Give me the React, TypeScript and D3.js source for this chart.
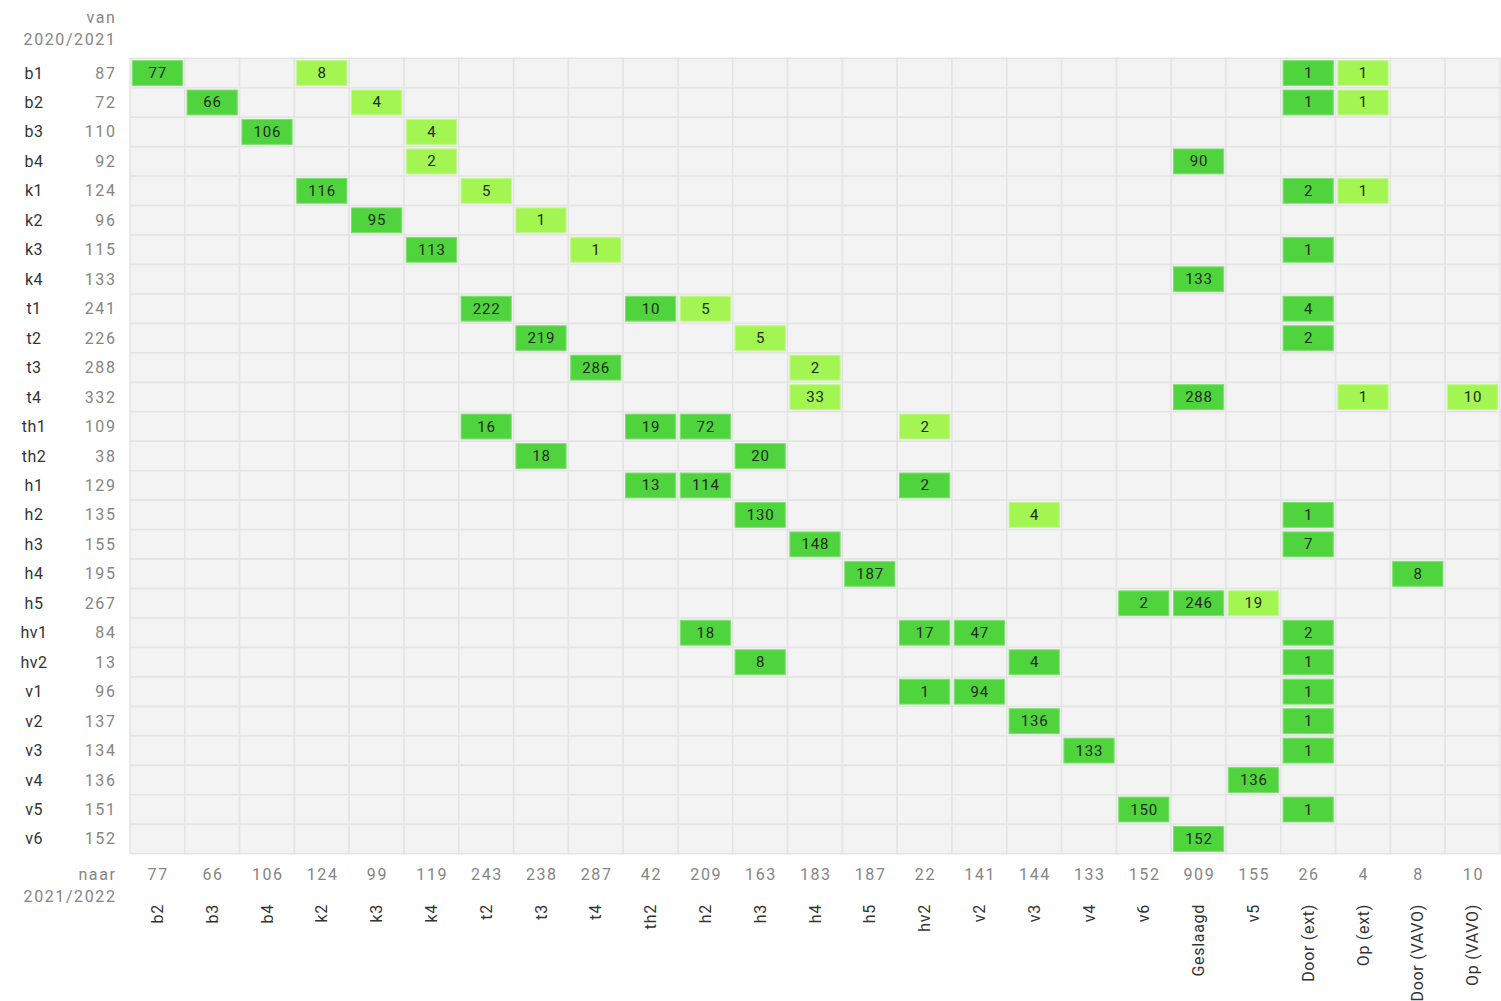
import { useEffect, useRef } from "react";
import * as d3 from "d3";

const FROM = ["b1", "b2", "b3", "b4", "k1", "k2", "k3", "k4", "t1", "t2", "t3", "t4", "th1", "th2", "h1", "h2", "h3", "h4", "h5", "hv1", "hv2", "v1", "v2", "v3", "v4", "v5", "v6"];
const FROM_TOTALS = [87, 72, 110, 92, 124, 96, 115, 133, 241, 226, 288, 332, 109, 38, 129, 135, 155, 195, 267, 84, 13, 96, 137, 134, 136, 151, 152];

const TO = ["b2", "b3", "b4", "k2", "k3", "k4", "t2", "t3", "t4", "th2", "h2", "h3", "h4", "h5", "hv2", "v2", "v3", "v4", "v6", "Geslaagd", "v5", "Door (ext)", "Op (ext)", "Door (VAVO)", "Op (VAVO)"];
const TO_TOTALS = [77, 66, 106, 124, 99, 119, 243, 238, 287, 42, 209, 163, 183, 187, 22, 141, 144, 133, 152, 909, 155, 26, 4, 8, 10];

// [van, naar, aantal, licht (1) of donker (0)]
const FLOWS: [string, string, number, number][] = [
  ["b1", "b2", 77, 0], ["b1", "k2", 8, 1], ["b1", "Door (ext)", 1, 0], ["b1", "Op (ext)", 1, 1],
  ["b2", "b3", 66, 0], ["b2", "k3", 4, 1], ["b2", "Door (ext)", 1, 0], ["b2", "Op (ext)", 1, 1],
  ["b3", "b4", 106, 0], ["b3", "k4", 4, 1],
  ["b4", "k4", 2, 1], ["b4", "Geslaagd", 90, 0],
  ["k1", "k2", 116, 0], ["k1", "t2", 5, 1], ["k1", "Door (ext)", 2, 0], ["k1", "Op (ext)", 1, 1],
  ["k2", "k3", 95, 0], ["k2", "t3", 1, 1],
  ["k3", "k4", 113, 0], ["k3", "t4", 1, 1], ["k3", "Door (ext)", 1, 0],
  ["k4", "Geslaagd", 133, 0],
  ["t1", "t2", 222, 0], ["t1", "th2", 10, 0], ["t1", "h2", 5, 1], ["t1", "Door (ext)", 4, 0],
  ["t2", "t3", 219, 0], ["t2", "h3", 5, 1], ["t2", "Door (ext)", 2, 0],
  ["t3", "t4", 286, 0], ["t3", "h4", 2, 1],
  ["t4", "h4", 33, 1], ["t4", "Geslaagd", 288, 0], ["t4", "Op (ext)", 1, 1], ["t4", "Op (VAVO)", 10, 1],
  ["th1", "t2", 16, 0], ["th1", "th2", 19, 0], ["th1", "h2", 72, 0], ["th1", "hv2", 2, 1],
  ["th2", "t3", 18, 0], ["th2", "h3", 20, 0],
  ["h1", "th2", 13, 0], ["h1", "h2", 114, 0], ["h1", "hv2", 2, 0],
  ["h2", "h3", 130, 0], ["h2", "v3", 4, 1], ["h2", "Door (ext)", 1, 0],
  ["h3", "h4", 148, 0], ["h3", "Door (ext)", 7, 0],
  ["h4", "h5", 187, 0], ["h4", "Door (VAVO)", 8, 0],
  ["h5", "v6", 2, 0], ["h5", "Geslaagd", 246, 0], ["h5", "v5", 19, 1],
  ["hv1", "h2", 18, 0], ["hv1", "hv2", 17, 0], ["hv1", "v2", 47, 0], ["hv1", "Door (ext)", 2, 0],
  ["hv2", "h3", 8, 0], ["hv2", "v3", 4, 0], ["hv2", "Door (ext)", 1, 0],
  ["v1", "hv2", 1, 0], ["v1", "v2", 94, 0], ["v1", "Door (ext)", 1, 0],
  ["v2", "v3", 136, 0], ["v2", "Door (ext)", 1, 0],
  ["v3", "v4", 133, 0], ["v3", "Door (ext)", 1, 0],
  ["v4", "v5", 136, 0],
  ["v5", "v6", 150, 0], ["v5", "Door (ext)", 1, 0],
  ["v6", "Geslaagd", 152, 0],
];

const WIDTH = 1501;
const HEIGHT = 1001;
const FONT = "Roboto, 'Noto Sans', sans-serif";

export default function App() {
  const svgRef = useRef<SVGSVGElement>(null);

  useEffect(() => {
    if (!svgRef.current) return;
    const svg = d3.select(svgRef.current);
    svg.selectAll("*").remove();

    const grid = { left: 130, right: 1500, top: 58.3, bottom: 853.7 };

    const x = d3.scaleBand().domain(TO).range([grid.left, grid.right]);
    const y = d3.scaleBand().domain(FROM).range([grid.top, grid.bottom]);

    // background cells
    const bg = svg.append("g");
    FROM.forEach((f) => {
      TO.forEach((t) => {
        bg.append("rect")
          .attr("x", x(t)!)
          .attr("y", y(f)!)
          .attr("width", x.bandwidth())
          .attr("height", y.bandwidth())
          .attr("fill", "#f3f3f3")
          .attr("stroke", "#e4e4e4")
          .attr("stroke-width", 1.5);
      });
    });

    // filled cells
    const pad = 2.3;
    const cells = svg.append("g");
    FLOWS.forEach(([f, t, v, light]) => {
      const cx = x(t)!;
      const cy = y(f)!;
      cells.append("rect")
        .attr("x", cx + pad)
        .attr("y", cy + pad)
        .attr("width", x.bandwidth() - pad * 2)
        .attr("height", y.bandwidth() - pad * 2)
        .attr("fill", light ? "#a3f551" : "#4fd43e")
        .attr("stroke", light ? "#c2f88c" : "#7ee070")
        .attr("stroke-width", 1);
      cells.append("text")
        .attr("x", cx + x.bandwidth() / 2 + 0.4)
        .attr("y", cy + y.bandwidth() / 2)
        .attr("text-anchor", "middle")
        .attr("dominant-baseline", "central")
        .attr("fill", "#1e2a1a")
        .style("font-family", FONT)
        .style("font-size", "15px")
        .style("letter-spacing", "0.8px")
        .text(v);
    });

    // row labels
    const rows = svg.append("g").style("font-family", FONT).style("font-size", "16px");
    FROM.forEach((f, i) => {
      const cy = y(f)! + y.bandwidth() / 2;
      rows.append("text")
        .attr("x", 34)
        .attr("y", cy)
        .attr("text-anchor", "middle")
        .attr("dominant-baseline", "central")
        .attr("fill", "#333")
        .style("letter-spacing", "0.5px")
        .text(f);
      rows.append("text")
        .attr("x", 116.5)
        .attr("y", cy)
        .attr("text-anchor", "end")
        .attr("dominant-baseline", "central")
        .attr("fill", "#858585")
        .style("letter-spacing", "1.6px")
        .text(FROM_TOTALS[i]);
    });

    // column totals and labels
    const cols = svg.append("g").style("font-family", FONT).style("font-size", "16px");
    TO.forEach((t, i) => {
      const cx = x(t)! + x.bandwidth() / 2;
      cols.append("text")
        .attr("x", cx + 0.8)
        .attr("y", 874)
        .attr("text-anchor", "middle")
        .attr("dominant-baseline", "central")
        .attr("fill", "#858585")
        .style("letter-spacing", "1.6px")
        .text(TO_TOTALS[i]);
      cols.append("text")
        .attr("transform", `translate(${cx},904) rotate(-90)`)
        .attr("text-anchor", "end")
        .attr("dominant-baseline", "central")
        .attr("fill", "#333")
        .style("font-size", "16px")
        .style("letter-spacing", "0.7px")
        .text(t);
    });

    // corner captions
    const cap = svg.append("g")
      .style("font-family", FONT)
      .style("font-size", "16px")
      .style("letter-spacing", "1.6px")
      .attr("fill", "#858585")
      .attr("text-anchor", "end");
    cap.append("text").attr("x", 116.5).attr("y", 17).attr("dominant-baseline", "central").text("van");
    cap.append("text").attr("x", 116.5).attr("y", 39).attr("dominant-baseline", "central").text("2020/2021");
    cap.append("text").attr("x", 116.5).attr("y", 874).attr("dominant-baseline", "central").text("naar");
    cap.append("text").attr("x", 116.5).attr("y", 896).attr("dominant-baseline", "central").text("2021/2022");
  }, []);

  return (
    <svg
      ref={svgRef}
      width={WIDTH}
      height={HEIGHT}
      style={{ position: "absolute", left: 0, top: 0, background: "#fff" }}
    />
  );
}
